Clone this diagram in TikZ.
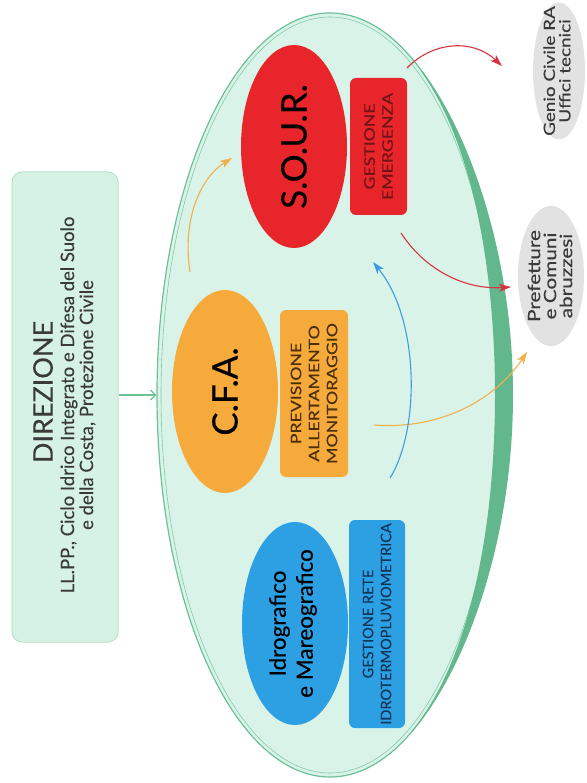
\documentclass[tikz,border=0pt]{standalone}
\usepackage{fontspec}
\setmainfont{Lato}[FakeBold=0.25]
\newfontfamily\widefont{Lato}[FakeStretch=1.22,FakeBold=0.3]
\usetikzlibrary{shapes.geometric,arrows.meta}
\definecolor{mint}{HTML}{D6F2E5}
\definecolor{mintedge}{HTML}{B5E4CE}
\definecolor{bigfill}{HTML}{DAF3E8}
\definecolor{bigedge}{HTML}{6CC197}
\definecolor{thickedge}{HTML}{62B88C}
\definecolor{sred}{HTML}{E8252B}
\definecolor{sorange}{HTML}{F7AA3C}
\definecolor{sblue}{HTML}{2CA0E2}
\definecolor{sgrey}{HTML}{E2E2E2}
\definecolor{txt}{HTML}{3A3A3A}
\definecolor{redtxt}{HTML}{6E1414}
\definecolor{orangetxt}{HTML}{4A3008}
\definecolor{bluetxt}{HTML}{12355A}
\definecolor{arrred}{HTML}{D43340}
\definecolor{arrorange}{HTML}{F2B04A}
\definecolor{arrblue}{HTML}{3A9EE0}
\begin{document}
\begin{tikzpicture}[x=1pt,y=-1pt,
  ell/.style={ellipse, inner sep=0pt, rotate=90},
  rbox/.style={rectangle, rounded corners=6pt, inner sep=0pt, rotate=90, align=center},
  lbl/.style={inner sep=0pt, rotate=90, align=center},
  arr/.style={line width=1.1pt, -{Stealth[length=12pt,width=8pt,inset=3pt]}},
  boxtext/.style={font=\widefont\fontsize{14.5}{18}\selectfont},
  big title/.style={font=\fontsize{35}{38}\selectfont, text=black}
]
\useasboundingbox (0,0) rectangle (586,783);

% Direzione box
\node[rbox, rounded corners=10pt, fill=mint, draw=mintedge, line width=1pt,
      minimum width=470pt, minimum height=106pt] (dir) at (65,407) {};
\node[lbl, text=txt, font=\fontsize{27}{30}\selectfont] (dirtitle) at (43,392) {DIREZIONE};
\node[lbl, text=txt, font=\fontsize{18.5}{19}\selectfont] (dirsub) at (78,405)
  {LL.PP., Ciclo Idrico Integrato e Difesa del Suolo\\
   e della Costa, Protezione Civile};

% big ellipse
\node[ellipse, draw=bigedge, line width=1.2pt, fill=bigfill,
      minimum width=346pt, minimum height=764pt, inner sep=0pt] (big) at (330,395) {};
\draw[bigedge, line width=0.6pt, opacity=0.8] (big.center) ellipse [x radius=169pt, y radius=378pt];
\fill[thickedge]
  plot[domain=-58:62, samples=60, smooth] ({330+(173+10*cos(\x)^3)*cos(\x)}, {395+382*sin(\x)})
  -- plot[domain=62:-58, samples=60, smooth] ({330+(173-8*cos(\x)^3)*cos(\x)}, {395+382*sin(\x)})
  -- cycle;

% connector from Direzione
\draw[bigedge, line width=1.3pt, -{Straight Barb[length=5pt,width=10pt]}]
  (dir.south |- big.west) -- (big.west);

% S.O.U.R.
\node[ell, fill=sred, minimum width=203pt, minimum height=106pt] (sour) at (294,146.5) {};
\node[lbl, big title] (sourlbl) at (sour.center) {S.O.U.R.};
\node[rbox, fill=sred, minimum width=137pt, minimum height=57pt, text=redtxt, boxtext] (gest) at (378.5,146.5) {GESTIONE\\EMERGENZA};

% C.F.A.
\node[ell, fill=sorange, minimum width=203pt, minimum height=106pt] (cfa) at (225,391.5) {};
\node[lbl, big title] (cfalbl) at (cfa.center) {C.F.A.};
\node[rbox, fill=sorange, minimum width=167pt, minimum height=68pt, text=orangetxt, boxtext] (prev) at (314,393.5) {PREVISIONE\\ALLERTAMENTO\\MONITORAGGIO};

% Idrografico
\node[ell, fill=sblue, minimum width=203pt, minimum height=106pt] (idro) at (295,623.5) {};
\node[lbl, text=black, font=\fontsize{22.5}{27}\selectfont] (idrolbl) at ([xshift=-2pt]idro.center) {Idrografico\\e Mareografico};
\node[rbox, fill=sblue, minimum width=208pt, minimum height=56pt, text=bluetxt,
      font=\fontsize{14.5}{18}\selectfont] (rete) at (377,624) {GESTIONE RETE\\IDROTERMOPLUVIOMETRICA};

% grey targets
\node[ell, fill=sgrey, minimum width=137pt, minimum height=52pt] (genio) at (559,71) {};
\node[lbl, text=txt, font=\widefont\fontsize{15.5}{15.5}\selectfont] (geniolbl) at ([xshift=-2pt]genio.center) {Genio Civile RA\\Uffici tecnici};
\node[ell, fill=sgrey, minimum width=140pt, minimum height=66pt] (pref) at (551,276) {};
\node[lbl, text=txt, font=\widefont\fontsize{17}{16}\selectfont] (preflbl) at ([xshift=-1pt]pref.center) {Prefetture\\e Comuni\\abruzzesi};

% arrows
\coordinate (r1s) at (407,68);
\coordinate (r1e) at (502,66);
\draw[arr, arrred] (r1s) .. controls (432,42) and (472,38) .. (r1e);
\coordinate (r2s) at (401,233);
\coordinate (r2e) at (511,287);
\draw[arr, arrred] (r2s) .. controls (425,270) and (465,290) .. (r2e);
\coordinate (o1s) at (374,425);
\coordinate (o1e) at (527,352);
\draw[arr, arrorange] (o1s) .. controls (440,430) and (495,400) .. (o1e);
\coordinate (b1s) at (390,478);
\coordinate (b1e) at (373,262);
\draw[arr, arrblue] (b1s) .. controls (420,430) and (420,320) .. (b1e);
\coordinate (o2s) at (190,272);
\coordinate (o2e) at (232,158);
\draw[arr, arrorange] (o2s) .. controls (182,220) and (200,178) .. (o2e);
\end{tikzpicture}
\end{document}
